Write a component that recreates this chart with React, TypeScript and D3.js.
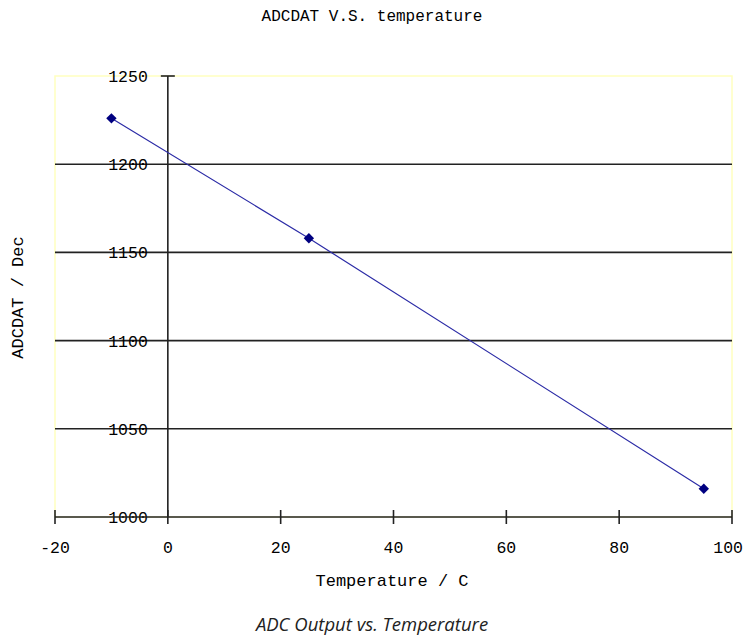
import React from 'react';
import * as d3 from 'd3';

const temperatures = [-10, 25, 95];
const adcValues = [1226, 1158, 1016];
const xTicks = [-20, 0, 20, 40, 60, 80, 100];
const yTicks = [1000, 1050, 1100, 1150, 1200, 1250];

const title = 'ADCDAT V.S. temperature';
const xTitle = 'Temperature / C';
const yTitle = 'ADCDAT / Dec';
const caption = 'ADC Output vs. Temperature';

const W = 744;
const H = 637;
const plot = { left: 55, right: 732, top: 76, bottom: 517 };
const mono = '"Liberation Mono", "DejaVu Sans Mono", monospace';

export default function App() {
  const x = d3.scaleLinear().domain([-20, 100]).range([plot.left, plot.right]);
  const y = d3.scaleLinear().domain([1000, 1250]).range([plot.bottom, plot.top]);

  const points = temperatures.map((t, i) => ({ t, v: adcValues[i] }));
  const line = d3.line<{ t: number; v: number }>().x(d => x(d.t)).y(d => y(d.v));
  // square turned 45 degrees, like the excel diamond marker
  const diamond = d3.symbol().type(d3.symbolSquare).size(54)();

  const x0 = x(0);
  const lastTick = xTicks[xTicks.length - 1];

  return (
    <svg width={W} height={H} style={{ position: 'absolute', left: 0, top: 0, background: '#fff' }}>
      <text x={W / 2} y={21} textAnchor="middle" fontFamily={mono} fontSize={16} fill="#000">
        {title}
      </text>

      {/* plot area border */}
      <rect
        x={plot.left}
        y={plot.top}
        width={plot.right - plot.left}
        height={plot.bottom - plot.top}
        fill="none"
        stroke="#ffffc0"
        strokeWidth={1.5}
      />

      {/* gridlines */}
      {yTicks.filter(v => v !== 1000 && v !== 1250).map(v => (
        <line key={v} x1={plot.left} x2={plot.right} y1={y(v)} y2={y(v)} stroke="#222" strokeWidth={1.6} />
      ))}

      {/* y axis at x = 0 */}
      <line x1={x0} x2={x0} y1={plot.top} y2={plot.bottom} stroke="#222" strokeWidth={1.6} />
      <line x1={x0 - 7} x2={x0 + 7} y1={y(1250)} y2={y(1250)} stroke="#222" strokeWidth={1.6} />
      {yTicks.map(v => (
        <text
          key={v}
          x={x0 - 20}
          y={y(v)}
          dy="0.36em"
          textAnchor="end"
          fontFamily={mono}
          fontSize={16.5}
          fill="#000"
        >
          {v}
        </text>
      ))}

      {/* x axis */}
      <line x1={plot.left} x2={plot.right} y1={plot.bottom} y2={plot.bottom} stroke="#222" strokeWidth={1.6} />
      {xTicks.map(t => (
        <g key={t}>
          <line x1={x(t)} x2={x(t)} y1={plot.bottom - 7} y2={plot.bottom + 7} stroke="#222" strokeWidth={1.6} />
          <text
            x={t === lastTick ? W - 1 : x(t)}
            y={553}
            textAnchor={t === lastTick ? 'end' : 'middle'}
            fontFamily={mono}
            fontSize={16.5}
            fill="#000"
          >
            {t}
          </text>
        </g>
      ))}

      {/* series */}
      <path d={line(points) || ''} fill="none" stroke="#2b2ba6" strokeWidth={1.2} />
      {points.map(p => (
        <path
          key={p.t}
          d={diamond || ''}
          transform={`translate(${x(p.t)},${y(p.v)}) rotate(45)`}
          fill="#000080"
        />
      ))}

      <text x={392} y={586} textAnchor="middle" fontFamily={mono} fontSize={17} fill="#000">
        {xTitle}
      </text>
      <text
        transform={`translate(23,${(plot.top + plot.bottom) / 2 + 1}) rotate(-90)`}
        textAnchor="middle"
        fontFamily={mono}
        fontSize={17}
        fill="#000"
      >
        {yTitle}
      </text>

      <text
        x={W / 2}
        y={631}
        textAnchor="middle"
        fontFamily='"Open Sans", "Noto Sans", sans-serif'
        fontStyle="italic"
        fontSize={18.5}
        fill="#222"
      >
        {caption}
      </text>
    </svg>
  );
}
